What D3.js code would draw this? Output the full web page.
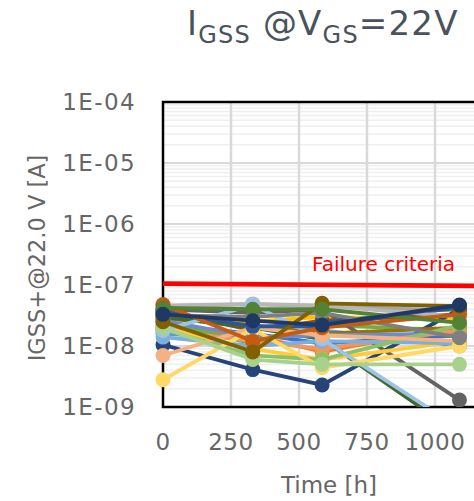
<!DOCTYPE html>
<html>
<head>
<meta charset="utf-8">
<script src="https://cdn.jsdelivr.net/npm/d3@7"></script>
<style>
  body { margin: 0; background: #fff; overflow: hidden; }
  text { font-family: "DejaVu Sans", Verdana, sans-serif; }
</style>
</head>
<body>
<svg width="474" height="501"></svg>
<script>
// time points [h]
var times = [0, 330, 585, 1090];
var xTicks = [0, 250, 500, 750, 1000, 1250];
var yTicks = [1e-9, 1e-8, 1e-7, 1e-6, 1e-5, 1e-4];

// failure criteria line (two end points)
var failTimes = [0, 1250];
var failValues = [1.05e-7, 0.96e-7];

// one IGSS series per device, drawn in this order
var seriesColors = [
  "#4472C4", "#ED7D31", "#A5A5A5", "#FFC000", "#5B9BD5", "#70AD47",
  "#264478", "#9E480E", "#636363", "#997300", "#255E91", "#43682B",
  "#698ED0", "#F1975A", "#B7B7B7", "#FFCD33", "#7CAFDD", "#8CC168",
  "#9DC3E6", "#F4B183", "#FFD966", "#A9D18E", "#7F7F7F", "#2F5597",
  "#C55A11", "#806000", "#548235", "#203864"
];
var seriesValues = [
  [2.2e-8, 1.6e-8, 1.1e-8, 1.5e-8],
  [2.0e-8, 1.5e-8, 8.0e-9, 2.1e-8],
  [4.5e-8, 4.8e-8, 4.5e-8, 3.8e-8],
  [3.0e-8, 2.5e-8, 3.0e-8, 2.7e-8],
  [1.6e-8, 1.3e-8, 1.8e-8, 1.0e-8],
  [2.4e-8, 1.1e-8, 2.2e-8, 1.8e-8],
  [1.05e-8, 4.1e-9, 2.3e-9, 4.0e-8],
  [3.8e-8, 1.8e-8, 2.6e-8, 3.3e-8],
  [4.0e-8, 3.5e-8, 4.0e-8, 1.3e-9],
  [2.8e-8, 2.2e-8, 1.6e-8, 2.0e-8],
  [3.5e-8, 2.0e-8, 2.4e-8, 4.2e-8],
  [3.0e-8, 2.0e-8, 1.3e-8, 3.6e-10],
  [2.6e-8, 1.4e-8, 1.5e-8, 1.6e-8],
  [1.8e-8, 1.2e-8, 9.0e-9, 1.8e-8],
  [4.6e-8, 4.9e-8, 4.6e-8, 3.0e-8],
  [2.0e-8, 9.0e-9, 6.0e-9, 1.2e-8],
  [1.4e-8, 1.0e-8, 1.2e-8, 1.1e-8],
  [1.9e-8, 7.0e-9, 6.0e-9, 2.2e-8],
  [1.8e-8, 4.7e-8, 1.3e-8, 4.5e-10],
  [7.0e-9, 2.0e-8, 1.5e-8, 1.2e-8],
  [2.8e-9, 1.9e-8, 4.4e-9, 1.0e-8],
  [2.0e-8, 6.0e-9, 5.0e-9, 5.0e-9],
  [3.2e-8, 3.0e-8, 3.5e-8, 1.37e-8],
  [3.6e-8, 2.1e-8, 2.1e-8, 4.6e-8],
  [4.8e-8, 1.2e-8, 2.0e-8, 3.3e-8],
  [2.5e-8, 8.0e-9, 5.0e-8, 4.5e-8],
  [4.2e-8, 4.0e-8, 4.0e-8, 2.4e-8],
  [3.3e-8, 2.6e-8, 2.2e-8, 4.7e-8]
];

var svg = d3.select("svg");
var plotLeft = 163, plotTop = 102, plotBottom = 407, plotRight = 503;

var x = d3.scaleLinear().domain([0, 1250]).range([plotLeft, plotRight]);
var y = d3.scaleLog().domain([1e-9, 1e-4]).range([plotBottom, plotTop]);

// minor log grid
var minor = [];
yTicks.slice(0, -1).forEach(function (d) {
  for (var k = 2; k <= 9; k++) minor.push(d * k);
});
svg.append("g").selectAll("line").data(minor).enter().append("line")
  .attr("x1", plotLeft).attr("x2", plotRight)
  .attr("y1", function (d) { return y(d); })
  .attr("y2", function (d) { return y(d); })
  .attr("stroke", "#EFEFEF").attr("stroke-width", 1.5);

// major grid
svg.append("g").selectAll("line").data(yTicks).enter().append("line")
  .attr("x1", plotLeft).attr("x2", plotRight)
  .attr("y1", function (d) { return y(d); })
  .attr("y2", function (d) { return y(d); })
  .attr("stroke", "#D9D9D9").attr("stroke-width", 2);
svg.append("g").selectAll("line").data(xTicks.slice(1)).enter().append("line")
  .attr("x1", function (d) { return x(d); })
  .attr("x2", function (d) { return x(d); })
  .attr("y1", plotTop).attr("y2", plotBottom)
  .attr("stroke", "#D9D9D9").attr("stroke-width", 2.5);

// plot border
svg.append("rect")
  .attr("x", plotLeft).attr("y", plotTop)
  .attr("width", plotRight - plotLeft).attr("height", plotBottom - plotTop)
  .attr("fill", "none").attr("stroke", "#000").attr("stroke-width", 2.5);

// tick labels
svg.append("g").selectAll("text").data(yTicks).enter().append("text")
  .attr("x", 136)
  .attr("y", function (d) { return y(d); })
  .attr("dy", "0.36em")
  .attr("text-anchor", "end")
  .attr("font-size", 23)
  .attr("letter-spacing", 1.4)
  .attr("fill", "#666666")
  .text(function (d) { return "1E-" + d3.format("02d")(-Math.round(Math.log10(d))); });

svg.append("g").selectAll("text").data(xTicks.slice(0, 5)).enter().append("text")
  .attr("x", function (d) { return x(d); })
  .attr("y", 442)
  .attr("dy", "0.36em")
  .attr("text-anchor", "middle")
  .attr("font-size", 23)
  .attr("letter-spacing", 0.6)
  .attr("fill", "#666666")
  .text(function (d) { return d; });

// axis titles
svg.append("text")
  .attr("x", 329).attr("y", 485).attr("dy", "0.36em")
  .attr("text-anchor", "middle")
  .attr("font-size", 23)
  .attr("fill", "#666666")
  .text("Time [h]");

svg.append("text")
  .attr("transform", "translate(37,258) rotate(-90)")
  .attr("dy", "0.36em")
  .attr("text-anchor", "middle")
  .attr("font-size", 22.5)
  .attr("fill", "#666666")
  .text("IGSS+@22.0 V [A]");

// title with subscripts
var title = svg.append("text")
  .attr("x", 187).attr("y", 35)
  .attr("font-size", 34)
  .attr("letter-spacing", 1.2)
  .attr("fill", "#4A535B");
title.append("tspan").text("I");
title.append("tspan").attr("font-size", 24).attr("dy", 8).text("GSS");
title.append("tspan").attr("dy", -8).text(" @V");
title.append("tspan").attr("font-size", 24).attr("dy", 8).text("GS");
title.append("tspan").attr("dy", -8).text("=22V");

// clip for lines that drop below the axis
svg.append("clipPath").attr("id", "plotclip")
  .append("rect")
  .attr("x", plotLeft - 12).attr("y", plotTop)
  .attr("width", plotRight - plotLeft + 24).attr("height", plotBottom - plotTop);

var line = d3.line()
  .x(function (d, i) { return x(times[i]); })
  .y(function (d) { return y(d); });

var plot = svg.append("g").attr("clip-path", "url(#plotclip)");

seriesValues.forEach(function (vals, s) {
  var g = plot.append("g");
  g.append("path")
    .datum(vals)
    .attr("d", line)
    .attr("fill", "none")
    .attr("stroke", seriesColors[s])
    .attr("stroke-width", 3.8);
  g.selectAll("circle").data(vals).enter().append("circle")
    .attr("cx", function (d, i) { return x(times[i]); })
    .attr("cy", function (d) { return y(d); })
    .attr("r", 7.5)
    .attr("fill", seriesColors[s]);
});

// failure criteria
svg.append("line")
  .attr("x1", x(failTimes[0])).attr("x2", x(failTimes[1]))
  .attr("y1", y(failValues[0])).attr("y2", y(failValues[1]))
  .attr("stroke", "#FF0000").attr("stroke-width", 4.8);

svg.append("text")
  .attr("x", 312).attr("y", 271)
  .attr("font-size", 20)
  .attr("fill", "#FF0000")
  .text("Failure criteria");
</script>
</body>
</html>
